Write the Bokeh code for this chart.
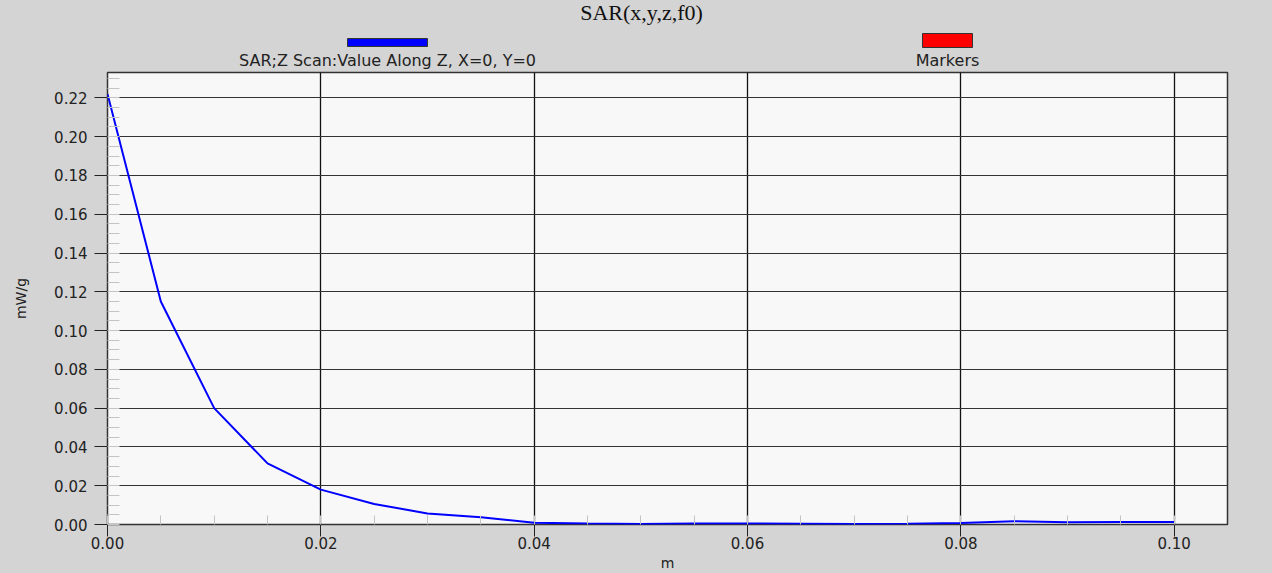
from bokeh.plotting import figure
from bokeh.models import Range1d, SingleIntervalTicker, PrintfTickFormatter
from bokeh.layouts import column
from bokeh.embed import file_html
from bokeh.resources import INLINE
from bokeh.core.properties import value

# ---------------- data ----------------
z_m = [0.000, 0.005, 0.010, 0.015, 0.020, 0.025, 0.030, 0.035, 0.040, 0.045,
       0.050, 0.055, 0.060, 0.065, 0.070, 0.075, 0.080, 0.085, 0.090, 0.095, 0.100]
sar_mw_g = [0.222, 0.115, 0.060, 0.0315, 0.018, 0.0106, 0.0057, 0.0037, 0.0009, 0.0005,
            0.0003, 0.0005, 0.0005, 0.0004, 0.0003, 0.0004, 0.0008, 0.0017, 0.0011, 0.0013, 0.0013]
title_text = "SAR(x,y,z,f0)"
series_names = ["SAR;Z Scan:Value Along Z, X=0, Y=0", "Markers"]
series_colors = ["#0000ff", "#ff0000"]
x_label = "m"
y_label = "mW/g"

# ---------------- style / layout ----------------
BG = "#d4d4d4"
W = 1272
TOP_H = 70
MAIN_H = 573 - TOP_H
B_LEFT = 107
B_RIGHT = 45
FONT = "DejaVu Sans"

# header figure (title + legend); its frame is aligned with the main frame,
# so its ranges are expressed in page pixels
top = figure(width=W, height=TOP_H, x_range=Range1d(B_LEFT, W - B_RIGHT), y_range=Range1d(TOP_H, 0),
             output_backend="svg", toolbar_location=None, min_border=0,
             min_border_left=B_LEFT, min_border_right=B_RIGHT)
top.xaxis.visible = False
top.yaxis.visible = False
top.grid.visible = False
top.outline_line_color = None
top.background_fill_alpha = 0
top.border_fill_color = BG

top.text(x=[641], y=[12], text=[title_text], text_font=value("Liberation Serif"),
         text_font_size="22px", text_align="center", text_baseline="middle", text_color="#111111")
top.quad(left=[347, 922], right=[427, 972], top=[38, 33], bottom=[46, 47],
         fill_color=series_colors, line_color="#333333", line_width=1)
top.text(x=[387, 947], y=[60, 60], text=series_names, text_font=value(FONT),
         text_font_size="16px", text_align="center", text_baseline="middle", text_color="#222222")

# main plot
p = figure(width=W, height=MAIN_H, x_range=Range1d(0, 0.105), y_range=Range1d(0, 0.2331),
           output_backend="svg", toolbar_location=None,
           min_border_left=B_LEFT, min_border_right=B_RIGHT, min_border_top=2, min_border_bottom=48)
p.background_fill_color = "#f8f8f8"
p.border_fill_color = BG
p.outline_line_color = "#333333"
p.outline_line_width = 1.5

p.line(z_m, sar_mw_g, line_color=series_colors[0], line_width=2)

xt = SingleIntervalTicker(interval=0.02, num_minor_ticks=4)
yt = SingleIntervalTicker(interval=0.02, num_minor_ticks=4)
p.xaxis.ticker = xt
p.yaxis.ticker = yt
p.xgrid.ticker = xt
p.ygrid.ticker = yt
p.xaxis.formatter = PrintfTickFormatter(format="%.2f")
p.yaxis.formatter = PrintfTickFormatter(format="%.2f")

p.xgrid.grid_line_color = "#111111"
p.xgrid.grid_line_width = 1.3
p.ygrid.grid_line_color = "#333333"
p.ygrid.grid_line_width = 1.2

for ax in (p.xaxis[0], p.yaxis[0]):
    ax.axis_line_color = None
    ax.major_tick_in = 0
    ax.major_tick_line_color = "#222222"
    ax.minor_tick_out = 0
    ax.minor_tick_line_color = "#c4c4c4"
    ax.major_label_text_font = FONT
    ax.major_label_text_font_size = "15px"
    ax.major_label_text_color = "#222222"
    ax.axis_label_text_font = FONT
    ax.axis_label_text_font_size = "14px"
    ax.axis_label_text_font_style = "normal"
    ax.axis_label_text_color = "#222222"

p.xaxis.axis_label = x_label
p.yaxis.axis_label = y_label
p.xaxis.major_tick_out = 12
p.xaxis.minor_tick_in = 9
p.xaxis.major_label_standoff = 0
p.xaxis.axis_label_standoff = 3
p.yaxis.major_tick_out = 13
p.yaxis.minor_tick_in = 12
p.yaxis.major_label_standoff = 7
p.yaxis.axis_label_standoff = 22

layout = column(top, p, spacing=0, styles={"background-color": BG})
open("out.html", "w").write(file_html(layout, INLINE))
